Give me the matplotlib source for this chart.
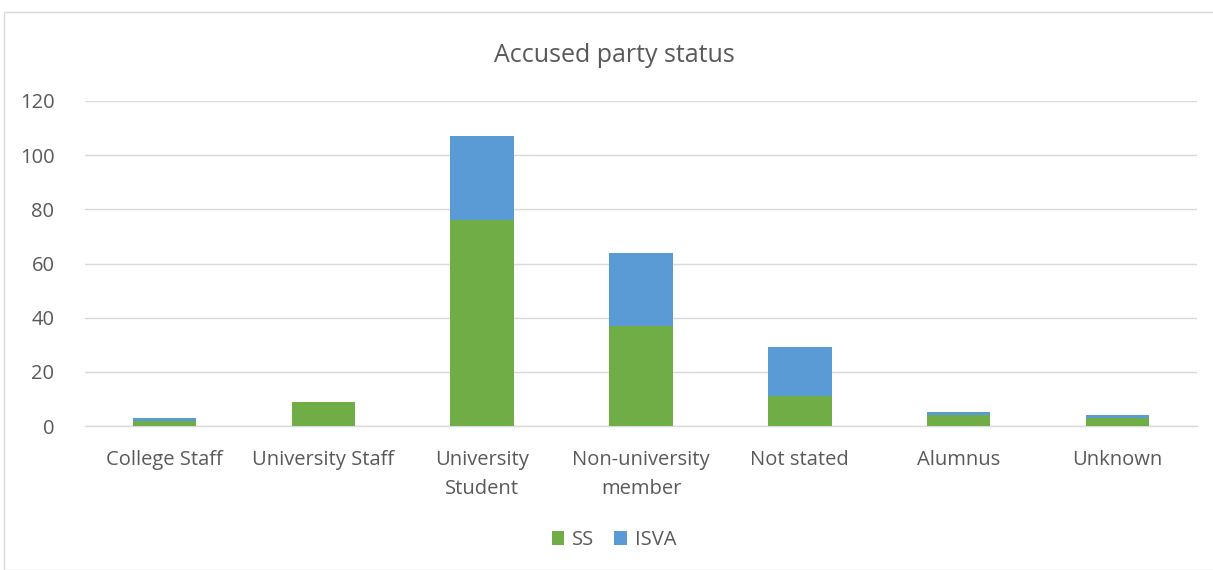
import matplotlib.pyplot as plt
import numpy as np
from matplotlib.patches import Rectangle

categories = ["College Staff", "University Staff", "University\nStudent",
              "Non-university\nmember", "Not stated", "Alumnus", "Unknown"]
ss = [2, 9, 76, 37, 11, 4, 3]
isva = [1, 0, 31, 27, 18, 1, 1]

green = "#70AD47"
blue = "#5B9BD5"
text_col = "#595959"

plt.rcParams['font.family'] = ['Open Sans', 'DejaVu Sans']

fig = plt.figure(figsize=(12.13, 5.70), dpi=100)
ax = fig.add_axes([85 / 1213, 1 - 426 / 570, 1112 / 1213, 325 / 570])

x = np.arange(len(categories))
ax.bar(x, ss, width=0.4, color=green, label="SS", zorder=3)
ax.bar(x, isva, width=0.4, bottom=ss, color=blue, label="ISVA", zorder=3)

ax.set_xlim(-0.5, len(categories) - 0.5)
ax.set_ylim(0, 120)
ax.set_yticks(range(0, 121, 20))
ax.yaxis.grid(True, color="#D9D9D9", linewidth=1, zorder=0)
for side in ["top", "right", "left"]:
    ax.spines[side].set_visible(False)
ax.spines["bottom"].set_color("#D9D9D9")
ax.spines["bottom"].set_linewidth(1)
ax.tick_params(axis="both", length=0, labelsize=14.5, labelcolor=text_col)
ax.tick_params(axis="y", pad=22)
ax.tick_params(axis="x", pad=17)
ax.set_xticks(x)
ax.set_xticklabels(categories, linespacing=1.65)

fig.text(614 / 1213, 1 - 55 / 570, "Accused party status", ha="center", va="center",
         fontsize=18, color=text_col)

leg = fig.legend(loc="center", bbox_to_anchor=(614 / 1213, 1 - 540 / 570), ncol=2,
                 frameon=False, fontsize=14.5, handlelength=0.6, handleheight=0.7,
                 handletextpad=0.4, columnspacing=1.0, labelcolor=text_col)

# chart border
fig.patches.append(Rectangle((4 / 1213, 0), 1210 / 1213, 1 - 12 / 570, transform=fig.transFigure,
                             fill=False, edgecolor="#D9D9D9", linewidth=1))

fig.savefig("out.png", dpi=100)
